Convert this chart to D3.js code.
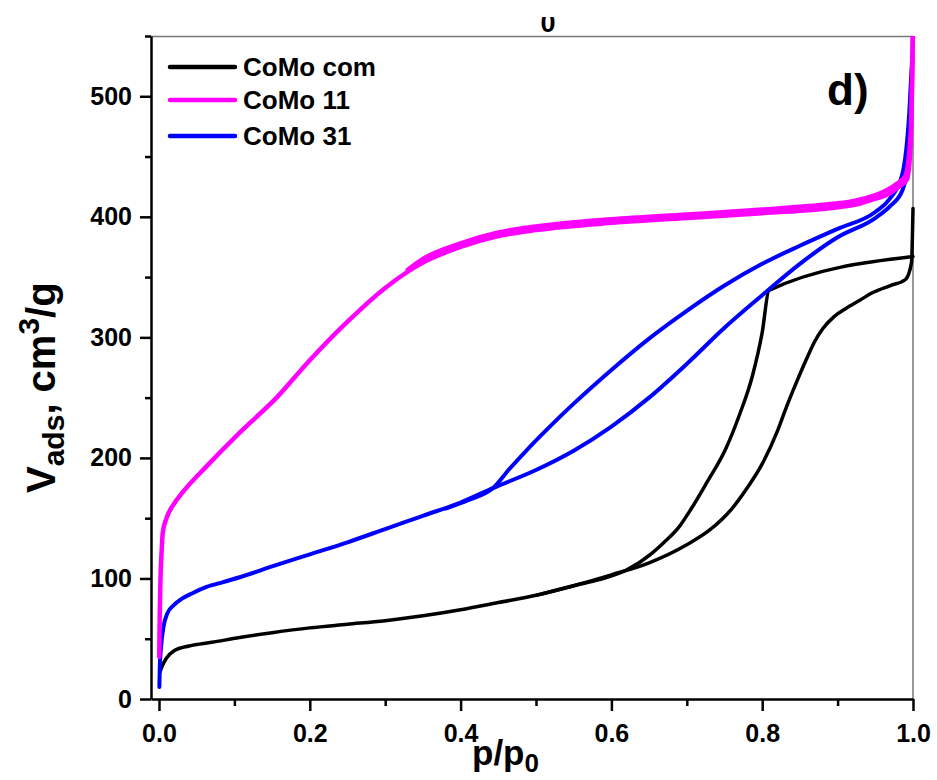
<!DOCTYPE html>
<html><head><meta charset="utf-8">
<script src="https://cdn.jsdelivr.net/npm/d3@7"></script>
<style>body{margin:0;background:#fff}svg{display:block}text{font-family:"Liberation Sans",Arial,sans-serif;font-weight:bold}</style>
</head><body><svg id="c" width="937" height="780"></svg>
<script>
// ---- data ----
const seriesNames = ["CoMo com", "CoMo 11", "CoMo 31"];
const seriesColors = ["#000000", "#ff00ff", "#0000ff"];
const xMajorTicks = [0.0, 0.2, 0.4, 0.6, 0.8, 1.0];
const xMinorTicks = [0.1, 0.3, 0.5, 0.7, 0.9];
const yMajorTicks = [0, 100, 200, 300, 400, 500];
const yMinorTicks = [50, 150, 250, 350, 450, 550];

// CoMo com (adsorption / desorption)
const comAdsP = [0.001,0.004,0.01,0.02,0.04,0.07,0.107,0.15,0.2,0.25,0.3,0.35,0.4,0.45,0.5,0.55,0.6,0.65,0.7,0.73,0.76,0.78,0.8,0.82,0.832,0.845,0.858,0.87,0.88,0.895,0.911,0.93,0.946,0.97,0.99,0.998,1.0];
const comAdsV = [22,27,34,40,44,47,51,55,59,62,65,69,74,80,86,94,103,113,128,140,158,175,195,222,242,262,281,297,307,317,324,331,337,343,348,362,407];
const comDesP = [1.0,0.809,0.8,0.787,0.77,0.752,0.726,0.705,0.69,0.67,0.654,0.62,0.584,0.55,0.5];
const comDesV = [367,339,304,268,236,208,179,157,143,130,121,107,99,94,86];
// CoMo 11
const c11AdsP = [0.0003,0.001,0.002,0.0036,0.005,0.01,0.02,0.032,0.063,0.107,0.156,0.2,0.25,0.3,0.35,0.4,0.45,0.5,0.6,0.7,0.8,0.9,0.93,0.95,0.968,0.981,0.992,0.997,1.0];
const c11AdsV = [35,70,100,124,138,150,162,172,193,221,250,281,313,341,362,375,384,389,395,399,403,408,411,415,419,425,431,460,560];
const c11DesP = [1.0,0.997,0.99,0.98,0.965,0.95,0.92,0.88,0.8,0.7,0.6,0.5,0.45,0.4,0.35,0.33];
const c11DesV = [560,470,434,428,422,418,413,410,406,402,398,392,387,378,365,356];
// CoMo 31
const c31AdsP = [0.0005,0.001,0.003,0.006,0.011,0.02,0.03,0.045,0.063,0.085,0.107,0.15,0.2,0.25,0.3,0.35,0.4,0.443,0.5,0.55,0.6,0.65,0.7,0.75,0.8,0.85,0.9,0.95,0.97,0.986,0.995,0.999];
const c31AdsV = [10,25,45,60,71,78,83,88,93,97,101,110,120,130,141,152,163,175,190,206,226,250,278,308,335,361,383,399,409,422,450,533];
const c31DesP = [0.999,0.995,0.986,0.968,0.95,0.9,0.85,0.8,0.75,0.7,0.65,0.6,0.55,0.52,0.49,0.465,0.443,0.41,0.38];
const c31DesV = [533,486,436,414,404,390,376,361,343,322,299,273,245,227,208,191,175,165,158];

const branches = [
  {s:0, p:comAdsP, v:comAdsV}, {s:0, p:comDesP, v:comDesV},
  {s:2, p:c31AdsP, v:c31AdsV}, {s:2, p:c31DesP, v:c31DesV},
  {s:1, p:c11AdsP, v:c11AdsV}, {s:1, p:c11DesP, v:c11DesV}
];
const widths = [3.5, 4.5, 4];

// ---- chart ----
const svg = d3.select("#c");
const L = 151, R = 913, T = 36, B = 699;
const x = d3.scaleLinear().domain([-0.0106, 1.0]).range([L, R]);
const y = d3.scaleLinear().domain([0, 550]).range([B, T]);

const defs = svg.append("defs");
defs.append("clipPath").attr("id","pc").append("rect")
  .attr("x", L).attr("y", T).attr("width", R - L + 6).attr("height", B - T);
defs.append("clipPath").attr("id","tc").append("rect")
  .attr("x", 0).attr("y", 17).attr("width", 937).attr("height", 30);

// partial label at top (cut off)
svg.append("text").attr("clip-path","url(#tc)").attr("x", 548).attr("y", 32)
  .attr("text-anchor","middle").attr("font-size", 27).text("0");

// frame top/right
svg.append("line").attr("x1", L).attr("x2", R).attr("y1", T + 0.5).attr("y2", T + 0.5)
  .attr("stroke", "#777").attr("stroke-width", 1.5);
svg.append("line").attr("x1", R).attr("x2", R).attr("y1", T).attr("y2", B)
  .attr("stroke", "#777").attr("stroke-width", 1.5);

// curves
const line = d3.line().x(d => x(d[0])).y(d => y(d[1])).curve(d3.curveMonotoneX);
const g = svg.append("g").attr("clip-path", "url(#pc)");
branches.forEach(b => {
  const pts = b.p.map((p, i) => [p, b.v[i]]).sort((a, c) => a[0] - c[0]);
  g.append("path").attr("d", line(pts)).attr("fill", "none")
    .attr("stroke", seriesColors[b.s]).attr("stroke-width", widths[b.s])
    .attr("stroke-linejoin", "round").attr("stroke-linecap", "round");
});

// axes
function styleAxis(sel) {
  sel.selectAll("path.domain").attr("stroke", "#000").attr("stroke-width", 2.5);
  sel.selectAll(".tick line").attr("stroke", "#000").attr("stroke-width", 2.5);
  sel.selectAll(".tick text").attr("font-size", 25).attr("font-weight", "bold")
    .attr("font-family", "Liberation Sans, Arial, sans-serif").attr("fill", "#000");
}
const yAx = svg.append("g").attr("transform", `translate(${L},0)`)
  .call(d3.axisLeft(y).tickValues(yMajorTicks).tickSize(11).tickSizeOuter(0).tickPadding(8).tickFormat(d3.format("d")));
styleAxis(yAx);
const yMin = svg.append("g").attr("transform", `translate(${L},0)`)
  .call(d3.axisLeft(y).tickValues(yMinorTicks).tickSize(6).tickSizeOuter(0).tickFormat(""));
styleAxis(yMin);
yMin.select("path.domain").remove();

const xAx = svg.append("g").attr("transform", `translate(0,${B})`)
  .call(d3.axisBottom(x).tickValues(xMajorTicks).tickSize(12).tickSizeOuter(0).tickPadding(8).tickFormat(d3.format(".1f")));
styleAxis(xAx);
xAx.selectAll(".tick text").attr("dy", "0.9em");
const xMin = svg.append("g").attr("transform", `translate(0,${B})`)
  .call(d3.axisBottom(x).tickValues(xMinorTicks).tickSize(7).tickSizeOuter(0).tickFormat(""));
styleAxis(xMin);
xMin.select("path.domain").remove();

// axis titles
const xt = svg.append("text").attr("x", 472).attr("y", 765).attr("font-size", 35);
xt.append("tspan").text("p/p");
xt.append("tspan").attr("dy", 7).attr("font-size", 26).text("0");

const yt = svg.append("text").attr("transform", "translate(55,493) rotate(-90)")
  .attr("text-anchor", "start").attr("font-size", 40);
yt.append("tspan").text("V");
yt.append("tspan").attr("dy", 9).attr("font-size", 30).text("ads");
yt.append("tspan").attr("dy", -9).text(", cm");
yt.append("tspan").attr("dy", -16).attr("font-size", 30).text("3");
yt.append("tspan").attr("dy", 16).text("/g");

// legend
const lg = svg.append("g");
const legY = [67, 100, 136];
seriesNames.forEach((n, i) => {
  lg.append("line").attr("x1", 170).attr("x2", 235).attr("y1", legY[i]).attr("y2", legY[i])
    .attr("stroke", seriesColors[i]).attr("stroke-width", 4.5).attr("stroke-linecap", "round");
  lg.append("text").attr("x", 243).attr("y", legY[i] + 9).attr("font-size", 26).text(n);
});

// panel label
svg.append("text").attr("x", 827).attr("y", 105).attr("font-size", 44).text("d)");
</script></body></html>
